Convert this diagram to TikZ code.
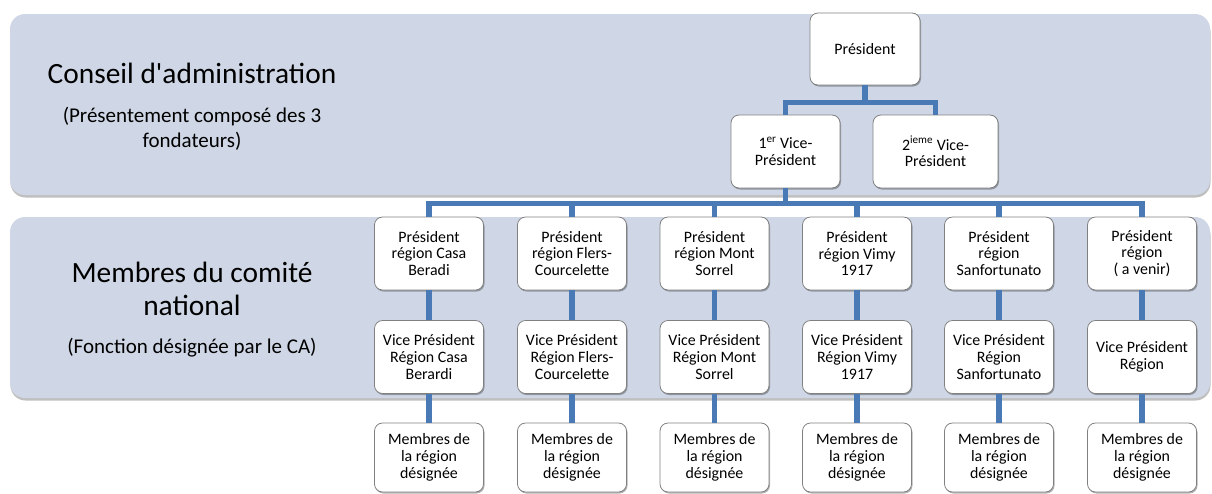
\documentclass[tikz,border=0pt]{standalone}
\usepackage{fontspec}
\setmainfont{Carlito}
\newfontfamily\straightfont{Carlito}[Ligatures=TeXOff]
\usetikzlibrary{shadows}
\definecolor{bandfill}{HTML}{CFD7E6}
\definecolor{connblue}{HTML}{4A7AB5}
\definecolor{boxline}{HTML}{808080}
\tikzset{
  band/.style={fill=bandfill, rounded corners=15pt, minimum width=1200pt, minimum height=181pt,
    drop shadow={shadow xshift=0.5pt, shadow yshift=-2.5pt, opacity=0.25, fill=black}},
  orgbox/.style={draw=boxline, line width=0.8pt, fill=white, rounded corners=8pt,
    minimum width=109pt, minimum height=73pt, inner sep=2pt, align=center,
    font=\fontsize{15.9}{16.7}\selectfont,
    drop shadow={shadow xshift=1pt, shadow yshift=-1.5pt, opacity=0.3, fill=black}},
  conn/.style={draw=connblue, line width=5.5pt},
  bigtitle/.style={anchor=base, font=\fontsize{29.4}{33}\selectfont},
  subtitle/.style={anchor=base, font=\fontsize{21}{25}\selectfont},
}
\begin{document}
\begin{tikzpicture}[x=1pt,y=-1pt]
\useasboundingbox (0,0) rectangle (1212,493);
% bands
\node[band] (band1) at (610,104.5) {};
\node[band] (band2) at (610,307.5) {};
% band labels
\node[bigtitle] (t1) at (192,83) {Conseil d{\straightfont'}administration};
\node[subtitle] (s1a) at (192,122) {(Présentement composé des 3};
\node[subtitle] (s1b) at (192,147) {fondateurs)};
\node[bigtitle] (t2a) at (192,282) {Membres du comité};
\node[bigtitle] (t2b) at (192,315) {national};
\node[subtitle] (s2) at (192,353) {(Fonction désignée par le CA)};
% top boxes
\node[orgbox, minimum width=110pt, minimum height=72pt] (pres) at (865,49) {Président};
\node[orgbox] (vp1) at (785.5,151.5) {1\textsuperscript{er} Vice-\\Président};
\node[orgbox, minimum width=125pt] (vp2) at (935.5,151.5) {2\textsuperscript{ieme} Vice-\\Président};
% region presidents
\node[orgbox] (r1) at (429,253.5) {Président\\région Casa\\Beradi};
\node[orgbox] (r2) at (572,253.5) {Président\\région Flers-\\Courcelette};
\node[orgbox] (r3) at (714.5,253.5) {Président\\région Mont\\Sorrel};
\node[orgbox] (r4) at (857,253.5) {Président\\région Vimy\\1917};
\node[orgbox] (r5) at (999,253.5) {Président\\région\\Sanfortunato};
\node[orgbox] (r6) at (1142,253.5) {Président\\région\\( a venir)};
% vice presidents
\node[orgbox] (v1) at (429,357) {Vice Président\\Région Casa\\Berardi};
\node[orgbox] (v2) at (572,357) {Vice Président\\Région Flers-\\Courcelette};
\node[orgbox] (v3) at (714.5,357) {Vice Président\\Région Mont\\Sorrel};
\node[orgbox] (v4) at (857,357) {Vice Président\\Région Vimy\\1917};
\node[orgbox] (v5) at (999,357) {Vice Président\\Région\\Sanfortunato};
\node[orgbox] (v6) at (1142,357) {Vice Président\\Région};
% members
\node[orgbox, minimum height=69pt] (m1) at (429,457.5) {Membres de\\la région\\désignée};
\node[orgbox, minimum height=69pt] (m2) at (572,457.5) {Membres de\\la région\\désignée};
\node[orgbox, minimum height=69pt] (m3) at (714.5,457.5) {Membres de\\la région\\désignée};
\node[orgbox, minimum height=69pt] (m4) at (857,457.5) {Membres de\\la région\\désignée};
\node[orgbox, minimum height=69pt] (m5) at (999,457.5) {Membres de\\la région\\désignée};
\node[orgbox, minimum height=69pt] (m6) at (1142,457.5) {Membres de\\la région\\désignée};
% connectors
\draw[conn] (pres.south) -- ++(0,17) -| (vp1.north);
\draw[conn] (pres.south) -- ++(0,17) -| (vp2.north);
\foreach \i in {1,...,6} {
  \draw[conn] (vp1.south) -- ++(0,15) -| (r\i.north);
  \draw[conn] (r\i.south) -- (v\i.north);
  \draw[conn] (v\i.south) -- (m\i.north);
}
\end{tikzpicture}
\end{document}
